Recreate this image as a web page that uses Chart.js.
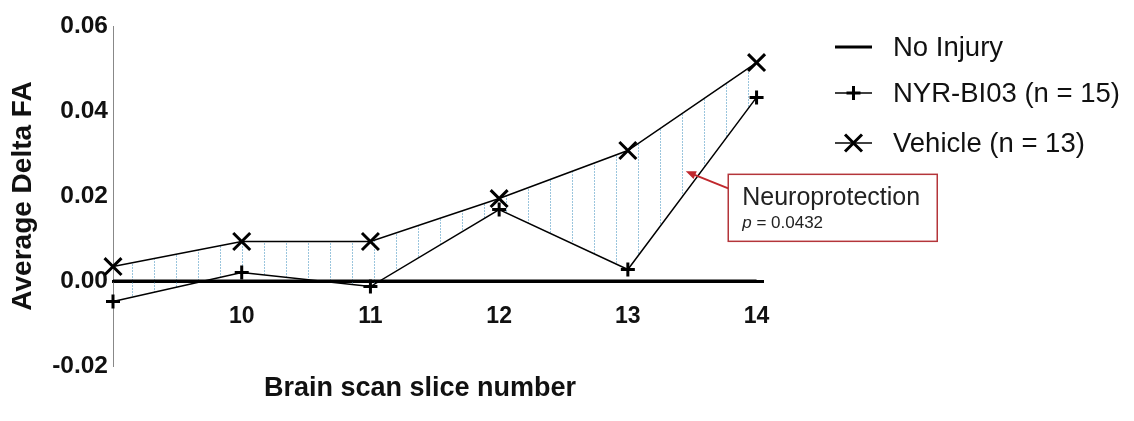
<!DOCTYPE html>
<html lang="en">
<head>
<meta charset="UTF-8">
<title>Average Delta FA by brain scan slice</title>
<script src="https://cdn.jsdelivr.net/npm/chart.js"></script>
<style>
  body { margin: 0; background: #fff; }
  #wrap { position: relative; width: 1134px; height: 421px; }
</style>
</head>
<body>
<div id="wrap"><canvas id="faChart"></canvas></div>
<script>
// brain scan slice numbers (x) and group means of delta FA
const slices = [9, 10, 11, 12, 13, 14];
const noInjury = [0, 0, 0, 0, 0, 0];
const nyrBI03 = [-0.0048, 0.0020, -0.0013, 0.0168, 0.0027, 0.0432];
const vehicle = [0.0034, 0.0093, 0.0093, 0.0194, 0.0307, 0.0514];
const yTicks = [-0.02, 0, 0.02, 0.04, 0.06];
const seriesLabels = ['No Injury', 'NYR-BI03 (n = 15)', 'Vehicle (n = 13)'];
const xTitle = 'Brain scan slice number';

const FONT = "'Liberation Sans', Arial, sans-serif";
const canvas = document.getElementById('faChart');
const ctx = canvas.getContext('2d');

// light blue dotted vertical hatch between the two groups
const tile = document.createElement('canvas');
tile.width = 22;
tile.height = 3;
const tctx = tile.getContext('2d');
tctx.fillStyle = 'rgba(120, 178, 210, 0.75)';
tctx.fillRect(0, 0, 1, 2);
const hatch = ctx.createPattern(tile, 'repeat');

const toXY = arr => arr.map((v, i) => ({ x: slices[i], y: v }));

// annotation anchored in data units
const ann = { tipX: 13.45, tipY: 0.0258, boxX: 13.78, boxY: 0.0251, w: 209, h: 67 };

const extras = {
  id: 'extras',
  afterDraw(chart) {
    const c = chart.ctx;
    const xs = chart.scales.x, ys = chart.scales.y;
    c.save();

    // x axis title (sits a bit left of the plot centre in the original)
    c.fillStyle = '#111';
    c.font = 'bold 27px ' + FONT;
    c.textAlign = 'center';
    c.textBaseline = 'middle';
    c.fillText(xTitle, 420, 389);
    c.textAlign = 'left';

    // legend on the right
    const lx = 835, lw = 37, tx = 893;
    const rows = [47, 93, 143];
    chart.data.datasets.forEach((ds, i) => {
      const y = rows[i];
      c.strokeStyle = '#000';
      c.fillStyle = '#000';
      c.lineWidth = ds.borderWidth;
      c.beginPath();
      c.moveTo(lx, y);
      c.lineTo(lx + lw, y);
      c.stroke();
      if (ds.pointRadius > 0) {
        c.lineWidth = ds.pointBorderWidth;
        Chart.helpers.drawPoint(c, {
          pointStyle: ds.pointStyle, radius: ds.pointRadius,
          borderWidth: ds.pointBorderWidth, rotation: 0
        }, lx + lw / 2, y);
      }
      c.fillStyle = '#111';
      c.font = '27.5px ' + FONT;
      c.textBaseline = 'middle';
      c.fillText(ds.label, tx, y + 1);
    });

    // arrow + box
    const bx = xs.getPixelForValue(ann.boxX), by = ys.getPixelForValue(ann.boxY);
    const px = xs.getPixelForValue(ann.tipX), py = ys.getPixelForValue(ann.tipY);
    const sx = bx, sy = by + 14;
    const ang = Math.atan2(py - sy, px - sx);
    const hl = 11;
    c.strokeStyle = '#c0282d';
    c.fillStyle = '#c0282d';
    c.lineWidth = 2;
    c.beginPath();
    c.moveTo(sx, sy);
    c.lineTo(px - Math.cos(ang) * hl * 0.8, py - Math.sin(ang) * hl * 0.8);
    c.stroke();
    c.beginPath();
    c.moveTo(px, py);
    c.lineTo(px - hl * Math.cos(ang - 0.4), py - hl * Math.sin(ang - 0.4));
    c.lineTo(px - hl * Math.cos(ang + 0.4), py - hl * Math.sin(ang + 0.4));
    c.closePath();
    c.fill();

    c.fillStyle = '#fff';
    c.fillRect(bx, by, ann.w, ann.h);
    c.strokeStyle = '#b4353a';
    c.lineWidth = 1.5;
    c.strokeRect(bx, by, ann.w, ann.h);
    c.fillStyle = '#222';
    c.textBaseline = 'alphabetic';
    c.font = '25px ' + FONT;
    c.fillText('Neuroprotection', bx + 14, by + 31);
    c.font = 'italic 17px ' + FONT;
    c.fillText('p', bx + 14, by + 54);
    const pw = c.measureText('p').width;
    c.font = '17px ' + FONT;
    c.fillText(' = 0.0432', bx + 14 + pw, by + 54);
    c.restore();
  }
};

new Chart(ctx, {
  type: 'line',
  data: {
    datasets: [
      {
        label: seriesLabels[0], data: toXY(noInjury),
        borderColor: '#000', borderWidth: 3, pointRadius: 0, fill: false
      },
      {
        label: seriesLabels[1], data: toXY(nyrBI03), clip: false,
        borderColor: '#000', borderWidth: 1.5,
        pointStyle: 'cross', pointRadius: 7, pointBorderWidth: 3,
        pointBorderColor: '#000', pointBackgroundColor: '#000', fill: false
      },
      {
        label: seriesLabels[2], data: toXY(vehicle), clip: false,
        borderColor: '#000', borderWidth: 1.5,
        pointStyle: 'crossRot', pointRadius: 12, pointBorderWidth: 3,
        pointBorderColor: '#000', pointBackgroundColor: '#000',
        fill: { target: 1, above: hatch, below: hatch }
      }
    ]
  },
  options: {
    responsive: true,
    maintainAspectRatio: false,
    animation: false,
    devicePixelRatio: 1,
    layout: { padding: { left: 2, right: 371, top: 26, bottom: 55 } },
    scales: {
      x: {
        type: 'linear', position: { y: 0 }, min: 9, max: 14.05,
        grid: { display: false, drawTicks: false },
        border: { display: true, color: '#000', width: 3 },
        afterBuildTicks: s => { s.ticks = slices.slice(1).map(v => ({ value: v })); },
        ticks: {
          padding: 22, color: '#111',
          font: { family: FONT, size: 23, weight: 'bold' },
          callback: v => v
        }
      },
      y: {
        min: -0.02, max: 0.06,
        afterBuildTicks: s => { s.ticks = yTicks.map(v => ({ value: v })); },
        afterFit: s => { s.width = 111; },
        grid: { display: false, drawTicks: false },
        border: { display: true, color: '#888', width: 1 },
        ticks: {
          padding: 5, color: '#111',
          font: { family: FONT, size: 24.5, weight: 'bold' },
          callback: v => v.toFixed(2)
        },
        title: {
          display: true, text: 'Average Delta FA', color: '#111',
          font: { family: FONT, size: 28, weight: 'bold' },
          padding: { top: 4, bottom: 4 }
        }
      }
    },
    plugins: {
      legend: { display: false },
      tooltip: { enabled: false }
    }
  },
  plugins: [extras]
});
</script>
</body>
</html>
